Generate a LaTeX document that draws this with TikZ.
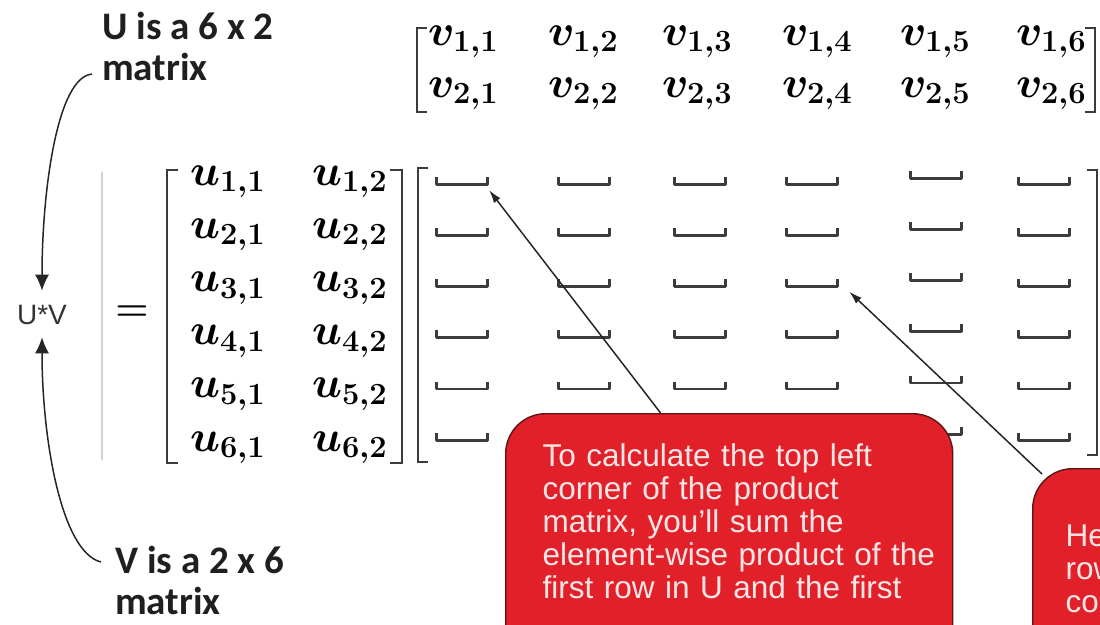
\RequirePackage{fix-cm}
\documentclass[tikz,border=0pt]{standalone}
\usepackage{amsmath}
\usepackage{fontspec}
\usetikzlibrary{calc,arrows.meta}
\newfontfamily\labelfont{Carlito}
\newfontfamily\notefont{Liberation Sans}
\definecolor{calloutred}{HTML}{E2202A}
\definecolor{calloutedge}{HTML}{5E1414}
\definecolor{calloutink}{HTML}{FBE6E6}
\definecolor{bracketgray}{HTML}{3C3C3C}

\begin{document}
\begin{tikzpicture}[x=1pt, y=-1pt,
  entry/.style={font=\fontsize{44}{50}\selectfont\boldmath, inner sep=0pt, anchor=base west},
  sizelabel/.style={font=\labelfont\bfseries\fontsize{39}{41}\selectfont, align=left,
    inner sep=0pt, anchor=north west, text=black!88},
  bracket/.style={draw=bracketgray, line width=2.4pt},
  blank/.style={minimum width=50pt, minimum height=7pt, inner sep=0pt},
  blankline/.style={draw=bracketgray, line width=2.8pt, line join=round},
  callout/.style={fill=calloutred, draw=calloutedge, line width=1.4pt, rounded corners=40pt,
    anchor=north west, align=left, text=calloutink, text depth=200pt,
    font=\notefont\fontsize{31.5}{33}\selectfont},
  pointer/.style={draw=black!85, line width=1.5pt, -{Latex[length=13pt,width=8pt]}},
  sizearrow/.style={draw=black!85, line width=1.5pt, -{Latex[length=16pt,width=14pt]}}]
  % pixel grid of the page: x to the right, y downwards
  \useasboundingbox (0,0) rectangle (1100,624);
  \clip (0,0) rectangle (1100,624);

  % ---------- V (2 x 6) on top ----------
  \foreach \c/\x in {1/428,2/548,3/662,4/782,5/900,6/1016} {
    \node[entry] (v-1-\c) at (\x,45) {$v_{1,\c}$};
    \node[entry] (v-2-\c) at (\x,97) {$v_{2,\c}$};
  }
  \draw[bracket] (427,28) -- (417,28) -- (417,112) -- (427,112);
  \draw[bracket] (1085,28) -- (1095,28) -- (1095,112) -- (1085,112);

  % ---------- U (6 x 2) ----------
  \foreach \r in {1,...,6} {
    \pgfmathsetmacro{\yb}{185+53.2*(\r-1)}
    \node[entry] (u-\r-1) at (190,\yb) {$u_{\r,1}$};
    \node[entry] (u-\r-2) at (312,\yb) {$u_{\r,2}$};
  }
  \draw[bracket] (178,170) -- (167,170) -- (167,463) -- (178,463);
  \draw[bracket] (390,170) -- (402,170) -- (402,463) -- (390,463);

  % ---------- product: empty 6 x 6 ----------
  \foreach \c/\x/\dy in {1/462/0,2/584/0,3/700/0,4/812/0,5/936/-6,6/1044/0} {
    \foreach \r in {1,...,6} {
      \pgfmathsetmacro{\yl}{184+51.2*(\r-1)+\dy}
      \node[blank] (p-\r-\c) at (\x,\yl-3.5) {};
      \draw[blankline] (p-\r-\c.north west) -- (p-\r-\c.south west)
        -- (p-\r-\c.south east) -- (p-\r-\c.north east);
    }
  }
  \draw[bracket] (428,168) -- (418,168) -- (418,462) -- (428,462);
  \draw[bracket] (1087,170) -- (1097,170) -- (1097,455) -- (1087,455);

  % ---------- U*V = ----------
  \draw[gray!35, line width=1.5pt] (102,172) -- (102,460);
  \node[font=\fontsize{38}{40}\selectfont\boldmath] (eq) at (132,313) {$=$};
  \node[font=\notefont\fontsize{28}{32}\selectfont, text=black!80] (uv) at (42,315) {U*V};

  % ---------- size labels ----------
  \node[sizelabel] (ulabel) at (102,12) {U is a 6 x 2\\matrix};
  \node[sizelabel] (vlabel) at (115,546) {V is a 2 x 6\\matrix};
  \draw[sizearrow, shorten >=11pt] ($(ulabel.south west)+(-10,-7)$)
    .. controls +(-35,3) and +(0,-110) .. (uv.north);
  \draw[sizearrow, shorten >=9pt] ($(vlabel.north west)+(-14,16)$)
    .. controls +(-40,-10) and +(0,110) .. (uv.south);

  % ---------- callouts ----------
  \node[callout, text width=373pt, inner xsep=37pt, inner ysep=30pt] (box1) at (505,413)
    {To calculate the top left\\corner of the product\\matrix, you’ll sum the\\\mbox{element-wise product of the}\\first row in U and the first};
  \node[callout, text width=420pt, inner xsep=33pt, inner ysep=55pt] (box2) at (1032,468)
    {Here the third\\row in U and the fourth\\column in V};
  \draw[pointer] ($(box1.north west)!0.347!(box1.north east)$) -- ([shift={(2,6)}]p-1-1.south east);
  \draw[pointer] ([shift={(10,6)}]box2.north west) -- ([shift={(12,5)}]p-3-4.south east);
\end{tikzpicture}
\end{document}
